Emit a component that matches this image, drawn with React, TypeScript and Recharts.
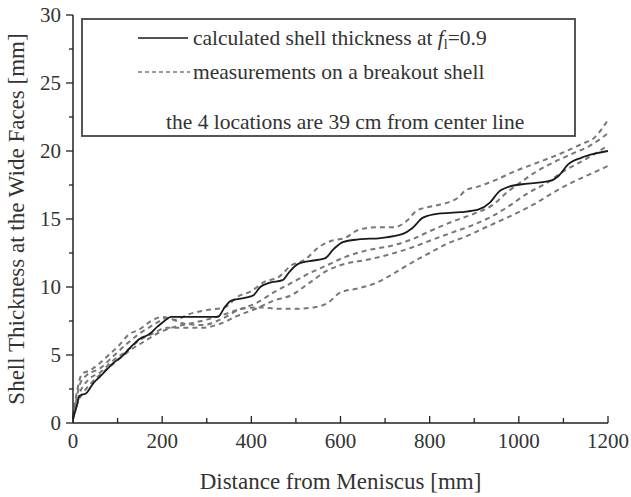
import React from "react";
import { ComposedChart, Line, XAxis, YAxis, Label } from "recharts";

type Pt = [number, number];

const xTicks = [0, 100, 200, 300, 400, 500, 600, 700, 800, 900, 1000, 1100, 1200];
const yTicks = [0, 2.5, 5, 7.5, 10, 12.5, 15, 17.5, 20, 22.5, 25, 27.5, 30];

const calculated: Pt[] = [
  [0, 0.3], [8, 1.2], [15, 2.0], [30, 2.2], [45, 2.9], [60, 3.4], [75, 3.9], [90, 4.4],
  [110, 4.9], [130, 5.6], [150, 6.2], [170, 6.5], [190, 7.1], [205, 7.5], [220, 7.8],
  [260, 7.8], [300, 7.8], [325, 7.8], [340, 8.5], [355, 9.0], [385, 9.2], [405, 9.4],
  [420, 10.0], [440, 10.3], [470, 10.5], [485, 11.1], [505, 11.7], [530, 11.9], [565, 12.1],
  [585, 12.8], [605, 13.3], [640, 13.5], [690, 13.6], [740, 13.9], [760, 14.3], [785, 15.1],
  [820, 15.4], [870, 15.5], [910, 15.7], [935, 16.2], [955, 17.0], [980, 17.4], [1020, 17.6],
  [1070, 17.8], [1090, 18.2], [1110, 19.0], [1140, 19.5], [1170, 19.8], [1200, 20.0],
];

const measurement1: Pt[] = [
  [0, 0.5], [10, 2.5], [20, 3.6], [40, 3.9], [60, 4.4], [80, 5.0], [100, 5.6], [125, 6.5],
  [150, 6.9], [175, 7.5], [200, 7.8], [230, 7.6], [260, 8.0], [300, 8.3], [340, 8.5],
  [370, 9.3], [400, 9.7], [430, 10.4], [460, 10.7], [490, 11.6], [520, 12.0], [550, 12.9],
  [580, 13.4], [610, 13.6], [640, 14.2], [680, 14.4], [720, 14.4], [750, 14.9], [770, 15.6],
  [800, 15.9], [840, 16.2], [865, 16.6], [880, 17.1], [910, 17.4], [950, 17.9], [990, 18.5],
  [1030, 19.0], [1070, 19.5], [1100, 19.9], [1140, 20.5], [1170, 21.0], [1200, 22.3],
];

const measurement2: Pt[] = [
  [0, 0.2], [15, 2.8], [30, 3.5], [60, 4.0], [90, 4.9], [120, 5.8], [150, 6.6], [180, 7.2],
  [210, 7.7], [250, 7.3], [290, 7.2], [330, 7.6], [370, 8.3], [410, 8.8], [450, 9.6],
  [490, 10.3], [530, 11.0], [570, 11.6], [610, 12.2], [660, 12.7], [710, 13.0], [760, 13.5],
  [800, 14.1], [850, 14.8], [900, 15.4], [940, 16.0], [975, 17.0], [1000, 17.6], [1040, 18.5],
  [1080, 19.2], [1120, 19.8], [1160, 20.4], [1200, 21.3],
];

const measurement3: Pt[] = [
  [0, 0.4], [15, 2.2], [35, 3.2], [60, 3.7], [90, 4.6], [120, 5.3], [150, 6.1], [180, 6.6],
  [210, 7.0], [250, 7.0], [290, 7.0], [330, 7.3], [370, 7.9], [410, 8.4], [450, 9.0],
  [490, 9.4], [530, 10.3], [570, 11.2], [610, 11.7], [660, 12.0], [710, 12.4], [760, 12.9],
  [800, 13.4], [850, 14.0], [900, 14.6], [940, 15.2], [980, 16.0], [1020, 16.9], [1060, 17.6],
  [1100, 18.5], [1150, 19.4], [1200, 20.4],
];

const measurement4: Pt[] = [
  [0, 0.6], [15, 1.8], [40, 2.9], [70, 3.8], [100, 4.6], [130, 5.4], [160, 6.0], [190, 6.6],
  [220, 7.0], [260, 7.3], [300, 7.6], [340, 8.0], [380, 8.4], [420, 8.5], [460, 8.4],
  [500, 8.4], [540, 8.5], [570, 8.8], [600, 9.6], [640, 9.9], [680, 10.3], [720, 11.0],
  [760, 11.8], [800, 12.5], [840, 13.2], [880, 13.7], [920, 14.3], [960, 14.9], [1000, 15.5],
  [1040, 16.2], [1080, 17.0], [1120, 17.7], [1160, 18.3], [1200, 18.9],
];

const toRows = (pts: Pt[]) => pts.map(([x, y]) => ({ x, y }));

const FONT = "'Liberation Serif', 'DejaVu Serif', serif";
const TEXT = "#333";
const AXIS = "#222";

const XTick = (props: any) => {
  const { x, y, payload } = props;
  const v = payload.value;
  const major = v % 200 === 0;
  return (
    <g>
      <line x1={x} x2={x} y1={y} y2={y - (major ? 7 : 5)} stroke={AXIS} strokeWidth={1.3} />
      {major && (
        <text x={x} y={y + 25} textAnchor="middle" fill={TEXT} style={{ fontFamily: FONT, fontSize: 21 }}>
          {v}
        </text>
      )}
    </g>
  );
};

const YTick = (props: any) => {
  const { x, y, payload } = props;
  const v = payload.value;
  const major = v % 5 === 0;
  return (
    <g>
      <line x1={x} x2={x - (major ? 7 : 4)} y1={y} y2={y} stroke={AXIS} strokeWidth={1.3} />
      {major && (
        <text x={x - 12} y={y + 7} textAnchor="end" fill={TEXT} style={{ fontFamily: FONT, fontSize: 21 }}>
          {v}
        </text>
      )}
    </g>
  );
};

const dashedProps = {
  type: "monotone" as const,
  dataKey: "y",
  stroke: "#777",
  strokeWidth: 2,
  strokeDasharray: "5 4",
  dot: false,
  isAnimationActive: false,
};

const legendText = { fontFamily: FONT, fontSize: 21.5 };

export default function App() {
  return (
    <div
      style={{
        position: "absolute",
        left: 0,
        top: 0,
        width: 631,
        height: 497,
        background: "#fff",
        fontFamily: FONT,
      }}
    >
      <ComposedChart width={631} height={497} margin={{ top: 15, right: 23, left: 0, bottom: 0 }}>
        <XAxis
          dataKey="x"
          type="number"
          domain={[0, 1200]}
          ticks={xTicks}
          interval={0}
          tickSize={0}
          tickMargin={0}
          tickLine={false}
          tick={<XTick />}
          height={74}
          axisLine={{ stroke: AXIS, strokeWidth: 1.5 }}
          allowDuplicatedCategory={false}
        >
          <Label
            value="Distance from Meniscus [mm]"
            position="insideBottom"
            offset={8}
            style={{ fontSize: 23, fill: TEXT, fontFamily: FONT }}
          />
        </XAxis>
        <YAxis
          type="number"
          domain={[0, 30]}
          ticks={yTicks}
          interval={0}
          tickSize={0}
          tickMargin={0}
          tickLine={false}
          tick={<YTick />}
          width={73}
          axisLine={{ stroke: AXIS, strokeWidth: 1.5 }}
        >
          <Label
            value="Shell Thickness at the Wide Faces [mm]"
            angle={-90}
            position="insideLeft"
            offset={16}
            style={{ fontSize: 23, fill: TEXT, fontFamily: FONT, textAnchor: "middle" }}
          />
        </YAxis>
        <Line data={toRows(measurement1)} {...dashedProps} name="m1" />
        <Line data={toRows(measurement2)} {...dashedProps} name="m2" />
        <Line data={toRows(measurement3)} {...dashedProps} name="m3" />
        <Line data={toRows(measurement4)} {...dashedProps} name="m4" />
        <Line
          data={toRows(calculated)}
          type="monotone"
          dataKey="y"
          stroke="#1a1a1a"
          strokeWidth={1.8}
          dot={false}
          isAnimationActive={false}
          name="calculated"
        />
      </ComposedChart>
      <svg
        width={631}
        height={497}
        style={{ position: "absolute", left: 0, top: 0, pointerEvents: "none" }}
      >
        <rect x={82} y={19} width={493} height={117} fill="#fff" stroke="#444" strokeWidth={1.8} />
        <line x1={138} x2={188} y1={38} y2={38} stroke="#1a1a1a" strokeWidth={1.6} />
        <text x={193} y={45} fill={TEXT} style={legendText}>
          calculated shell thickness at{" "}
          <tspan fontStyle="italic">f</tspan>
          <tspan dy={4} style={{ fontSize: 14 }}>l</tspan>
          <tspan dy={-4}>=0.9</tspan>
        </text>
        <line x1={138} x2={190} y1={72} y2={72} stroke="#777" strokeWidth={1.5} strokeDasharray="4 3" />
        <text x={193} y={79} fill={TEXT} style={legendText}>
          measurements on a breakout shell
        </text>
        <text x={166} y={129} fill={TEXT} style={legendText}>
          the 4 locations are 39 cm from center line
        </text>
      </svg>
    </div>
  );
}
